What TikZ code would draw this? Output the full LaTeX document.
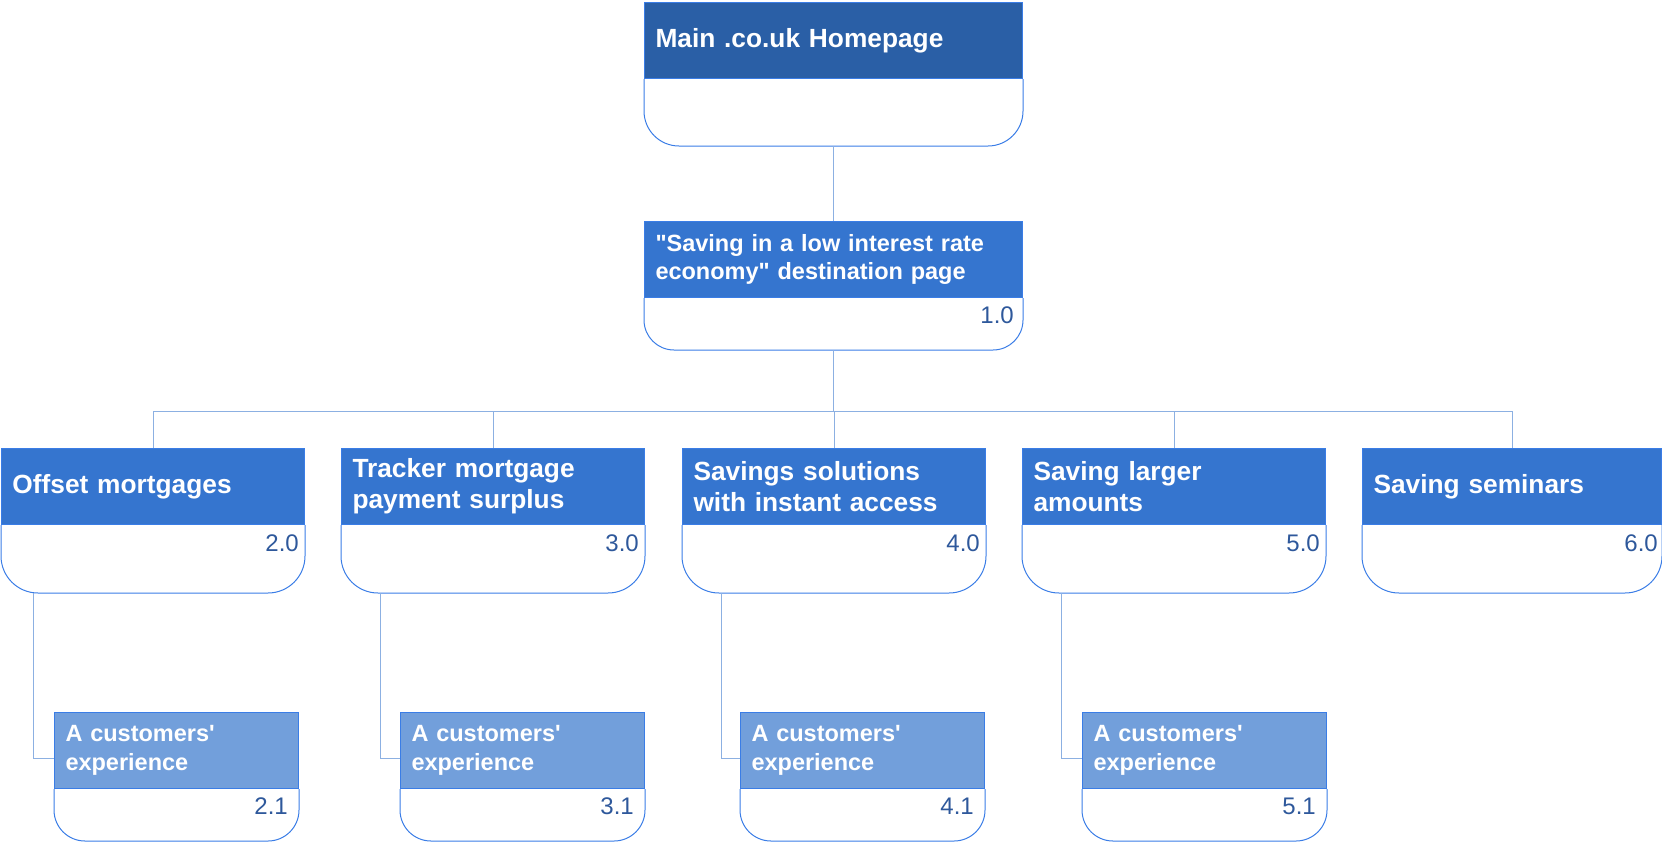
\documentclass[tikz,border=0pt]{standalone}
\usepackage{fontspec}
\setmainfont{Liberation Sans}
\usetikzlibrary{calc}
\definecolor{topfill}{RGB}{42,95,166}
\definecolor{midfill}{RGB}{53,117,207}
\definecolor{subfill}{RGB}{114,159,219}
\definecolor{edgec}{RGB}{58,125,230}
\definecolor{connc}{RGB}{140,176,226}
\definecolor{numc}{RGB}{46,88,155}
\tikzset{
  hdr/.style={draw=edgec, line width=1pt, anchor=north west, inner xsep=11pt, inner ysep=0pt,
    minimum height=76pt, text=white, align=left},
  bigtxt/.style={font=\bfseries\fontsize{26.3}{31}\selectfont},
  smalltxt/.style={font=\bfseries\fontsize{23.5}{28.6}\selectfont},
  outline/.style={draw=edgec, line width=1pt},
  num/.style={text=numc, font=\fontsize{24}{28}\selectfont, anchor=base east, inner sep=0pt},
  conn/.style={draw=connc, line width=1pt},
}
% #1 name, #2 x, #3 y, #4 width, #5 body height, #6 radius, #7 header style, #8 text
\newcommand\mycard[8]{%
  \pgfmathsetmacro\mytw{#4-22}%
  \node[hdr, #7, minimum width=#4pt, text width=\mytw pt] (#1) at (#2,#3) {#8};
  \draw[outline, rounded corners=#6pt] (#1.south west) -- ++(0,#5) coordinate (#1-bot)
     -- (#1.south east |- #1-bot) -- (#1.south east);
  \coordinate (#1-bc) at (#1.south |- #1-bot);
}
\begin{document}
\begin{tikzpicture}[x=1pt,y=-1pt]
\useasboundingbox (0,0) rectangle (1662,841);
\mycard{top}{644}{2}{378}{67}{35}{fill=topfill,bigtxt}{Main .co.uk Homepage}
\mycard{l1}{644}{221}{378}{52}{30}{fill=midfill,smalltxt}{\textquotedbl Saving in a low interest rate\\economy\textquotedbl{} destination page}
\node[num] (l1-n) at ($(l1.south east)+(-9,25)$) {1.0};
\mycard{c2}{1}{448}{303}{68}{37}{fill=midfill,bigtxt}{Offset mortgages}
\mycard{c3}{341}{448}{303}{68}{37}{fill=midfill,bigtxt}{Tracker mortgage\\payment surplus}
\mycard{c4}{682}{448}{303}{68}{37}{fill=midfill,bigtxt}{Savings solutions\\with instant access}
\mycard{c5}{1022}{448}{303}{68}{37}{fill=midfill,bigtxt}{Saving larger\\amounts}
\mycard{c6}{1362}{448}{299}{68}{37}{fill=midfill,bigtxt}{Saving seminars}
\node[num] (c2-n) at ($(c2.south east)+(-6,26)$) {2.0};
\node[num] (c3-n) at ($(c3.south east)+(-6,26)$) {3.0};
\node[num] (c4-n) at ($(c4.south east)+(-6,26)$) {4.0};
\node[num] (c5-n) at ($(c5.south east)+(-6,26)$) {5.0};
\node[num] (c6-n) at ($(c6.south east)+(-4,26)$) {6.0};
\mycard{s2}{54}{712}{244}{52}{31}{fill=subfill,smalltxt}{A customers\textquotesingle\\experience}
\mycard{s3}{400}{712}{244}{52}{31}{fill=subfill,smalltxt}{A customers\textquotesingle\\experience}
\mycard{s4}{740}{712}{244}{52}{31}{fill=subfill,smalltxt}{A customers\textquotesingle\\experience}
\mycard{s5}{1082}{712}{244}{52}{31}{fill=subfill,smalltxt}{A customers\textquotesingle\\experience}
\node[num] (s2-n) at ($(s2.south east)+(-11,25)$) {2.1};
\node[num] (s3-n) at ($(s3.south east)+(-11,25)$) {3.1};
\node[num] (s4-n) at ($(s4.south east)+(-11,25)$) {4.1};
\node[num] (s5-n) at ($(s5.south east)+(-11,25)$) {5.1};
% connectors
\draw[conn] (top-bc) -- (l1.north);
\coordinate (bus) at ($(l1-bc)+(0,61)$);
\draw[conn] (l1-bc) -- (bus);
\foreach \c in {c2,c3,c4,c5,c6} \draw[conn] (bus) -| (\c.north);
\foreach \c/\s/\o in {c2/s2/32,c3/s3/39,c4/s4/39,c5/s5/39}
  \draw[conn] ($(\c-bot)+(\o,0)$) |- ($(\s.west)+(0,8)$);
\end{tikzpicture}
\end{document}
